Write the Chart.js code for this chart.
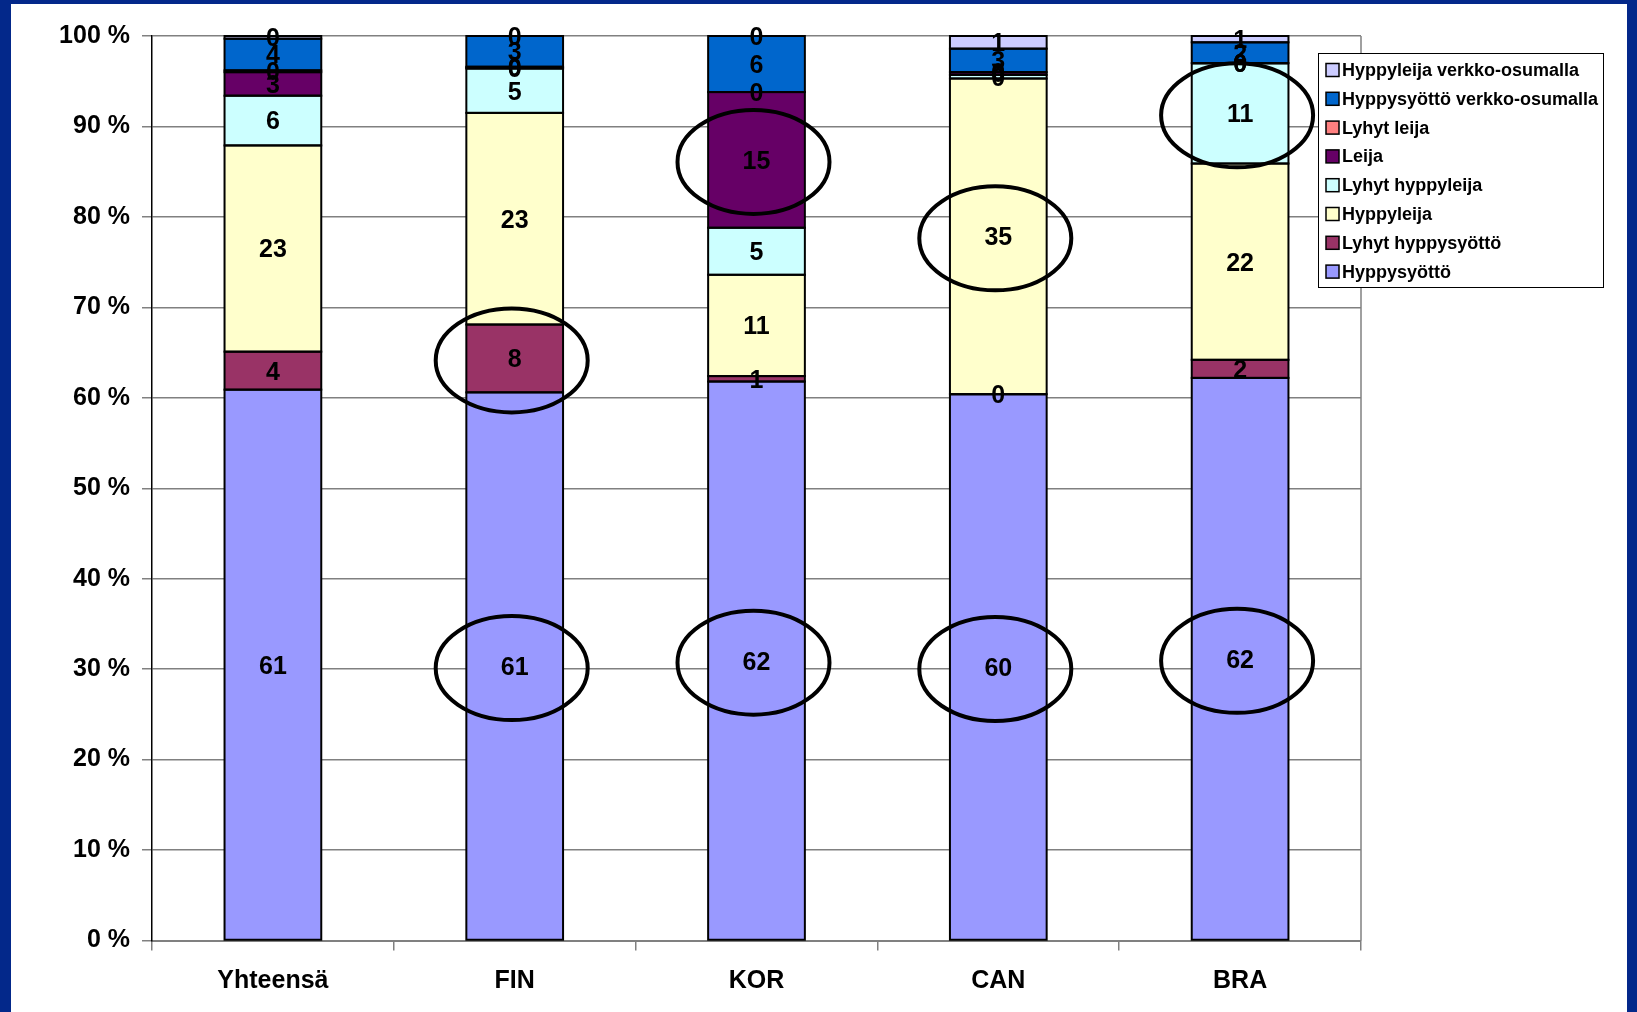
<!DOCTYPE html>
<html>
<head>
<meta charset="utf-8">
<script src="https://cdn.jsdelivr.net/npm/chart.js@4.4.1/dist/chart.umd.min.js"></script>
<style>
  html, body { margin: 0; padding: 0; width: 1637px; height: 1012px; overflow: hidden; background: #03288a; }
  #panel { position: absolute; left: 11px; top: 4px; width: 1616px; height: 1008px; background: #ffffff; }
  canvas { display: block; }
</style>
</head>
<body>
<div id="panel"><canvas id="chart" width="1616" height="1008"></canvas></div>
<script>
// Categories (teams) and serve types, bottom of the stack first
const categories = ['Yhteensä', 'FIN', 'KOR', 'CAN', 'BRA'];
const seriesNames = [
  'Hyppysyöttö',
  'Lyhyt hyppysyöttö',
  'Hyppyleija',
  'Lyhyt hyppyleija',
  'Leija',
  'Lyhyt leija',
  'Hyppysyöttö verkko-osumalla',
  'Hyppyleija verkko-osumalla'
];
const seriesColors = ['#9999ff', '#993366', '#ffffcc', '#ccffff', '#660066', '#ff8080', '#0066cc', '#ccccff'];

// Share of serves per type (%), one value per category
const hyppysyotto          = [60.9, 60.6, 61.8, 60.4, 62.2];
const lyhytHyppysyotto     = [ 4.2,  7.5,  0.6,  0.0,  2.0];
const hyppyleija           = [22.8, 23.4, 11.2, 34.9, 21.7];
const lyhytHyppyleija      = [ 5.5,  4.9,  5.2,  0.4, 11.1];
const leija                = [ 2.6,  0.1, 15.0,  0.3,  0.0];
const lyhytLeija           = [ 0.2,  0.1,  0.0,  0.0,  0.0];
const hyppysyottoVerkko    = [ 3.5,  3.4,  6.2,  2.6,  2.3];
const hyppyleijaVerkko     = [ 0.3,  0.0,  0.0,  1.4,  0.7];

const seriesValues = [hyppysyotto, lyhytHyppysyotto, hyppyleija, lyhytHyppyleija,
                      leija, lyhytLeija, hyppysyottoVerkko, hyppyleijaVerkko];

// Value axis ticks
const yTickValues = [0, 10, 20, 30, 40, 50, 60, 70, 80, 90, 100];

// Segments circled for emphasis: [category index, series index]
const circledSegments = [[1, 0], [1, 1], [2, 4], [2, 0], [3, 2], [3, 0], [4, 3], [4, 0]];

const FONT = "'Liberation Sans', Arial, sans-serif";

const datasets = seriesNames.map((name, i) => ({
  label: name,
  data: seriesValues[i],
  backgroundColor: seriesColors[i],
  borderWidth: 0,
  categoryPercentage: 1.0,
  barPercentage: 0.4
}));

// Black outline round every segment, centred on its edges
const segmentOutlines = {
  id: 'segmentOutlines',
  afterDatasetsDraw(chart) {
    const ctx = chart.ctx;
    ctx.save();
    ctx.strokeStyle = '#000';
    ctx.lineWidth = 2;
    chart.data.datasets.forEach((ds, di) => {
      chart.getDatasetMeta(di).data.forEach(bar => {
        const left = bar.x - bar.width / 2;
        const top = Math.min(bar.y, bar.base);
        const h = Math.abs(bar.base - bar.y);
        ctx.strokeRect(left, top, bar.width, h);
      });
    });
    ctx.restore();
  }
};

// Value labels centred in each segment
const segmentLabels = {
  id: 'segmentLabels',
  afterDatasetsDraw(chart) {
    const ctx = chart.ctx;
    ctx.save();
    ctx.font = 'bold 25px ' + FONT;
    ctx.fillStyle = '#000';
    ctx.textAlign = 'center';
    ctx.textBaseline = 'middle';
    chart.data.datasets.forEach((ds, di) => {
      const meta = chart.getDatasetMeta(di);
      meta.data.forEach((bar, i) => {
        const v = ds.data[i];
        ctx.fillText(String(Math.round(v)), bar.x, (bar.y + bar.base) / 2 + 2);
      });
    });
    ctx.restore();
  }
};

// Plot frame on the right, emphasis ellipses and the legend box
const decorations = {
  id: 'decorations',
  beforeDatasetsDraw(chart) {
    const { ctx, chartArea } = chart;
    ctx.save();
    ctx.strokeStyle = '#808080';
    ctx.lineWidth = 1.5;
    ctx.beginPath();
    ctx.moveTo(chartArea.right, chartArea.top);
    ctx.lineTo(chartArea.right, chartArea.bottom);
    ctx.stroke();
    ctx.restore();
  },
  afterDraw(chart) {
    const { ctx, chartArea } = chart;
    ctx.save();
    // ellipses
    ctx.strokeStyle = '#000';
    ctx.lineWidth = 4;
    circledSegments.forEach(([ci, si]) => {
      const bar = chart.getDatasetMeta(si).data[ci];
      const cx = bar.x - 3;
      const cy = (bar.y + bar.base) / 2 + 2;
      ctx.beginPath();
      ctx.ellipse(cx, cy, 76, 52, 0, 0, Math.PI * 2);
      ctx.stroke();
    });

    // legend
    const lx = chartArea.right - 43;
    const ly = chartArea.top + 17;
    const lw = 285;
    const lh = 234;
    ctx.fillStyle = '#fff';
    ctx.fillRect(lx, ly, lw, lh);
    ctx.strokeStyle = '#000';
    ctx.lineWidth = 1;
    ctx.strokeRect(lx + 0.5, ly + 0.5, lw, lh);
    ctx.font = 'bold 18px ' + FONT;
    ctx.textAlign = 'left';
    ctx.textBaseline = 'middle';
    const items = chart.data.datasets.slice().reverse();
    items.forEach((ds, k) => {
      const rowY = ly + 17 + k * 28.8;
      ctx.fillStyle = ds.backgroundColor;
      ctx.fillRect(lx + 8, rowY - 6.5, 13, 13);
      ctx.strokeStyle = '#000';
      ctx.lineWidth = 1.5;
      ctx.strokeRect(lx + 8, rowY - 6.5, 13, 13);
      ctx.fillStyle = '#000';
      ctx.fillText(ds.label, lx + 24, rowY + 1);
    });
    ctx.restore();
  }
};

new Chart(document.getElementById('chart'), {
  type: 'bar',
  data: { labels: categories, datasets },
  options: {
    responsive: false,
    animation: false,
    layout: { padding: { left: 0, right: 266, top: 32, bottom: 0 } },
    plugins: {
      legend: { display: false },
      tooltip: { enabled: false }
    },
    scales: {
      x: {
        stacked: true,
        grid: {
          display: true,
          drawOnChartArea: false,
          drawTicks: true,
          tickLength: 10,
          color: '#808080',
          lineWidth: 1.5,
          offset: true
        },
        border: { display: true, color: '#808080', width: 2 },
        ticks: {
          color: '#000',
          font: { family: FONT, size: 25, weight: 'bold' },
          padding: 16
        },
        afterFit(scale) { scale.height = 71.5; }
      },
      y: {
        stacked: true,
        min: 0,
        max: 100,
        afterBuildTicks(scale) { scale.ticks = yTickValues.map(v => ({ value: v })); },
        grid: {
          color: '#808080',
          lineWidth: 1.5,
          drawTicks: true,
          tickLength: 10
        },
        border: { display: true, color: '#000', width: 1.5 },
        ticks: {
          color: '#000',
          font: { family: FONT, size: 25, weight: 'bold' },
          padding: 12,
          callback: v => v + ' %'
        },
        afterFit(scale) { scale.width = 141; }
      }
    }
  },
  plugins: [segmentOutlines, segmentLabels, decorations]
});
</script>
</body>
</html>
